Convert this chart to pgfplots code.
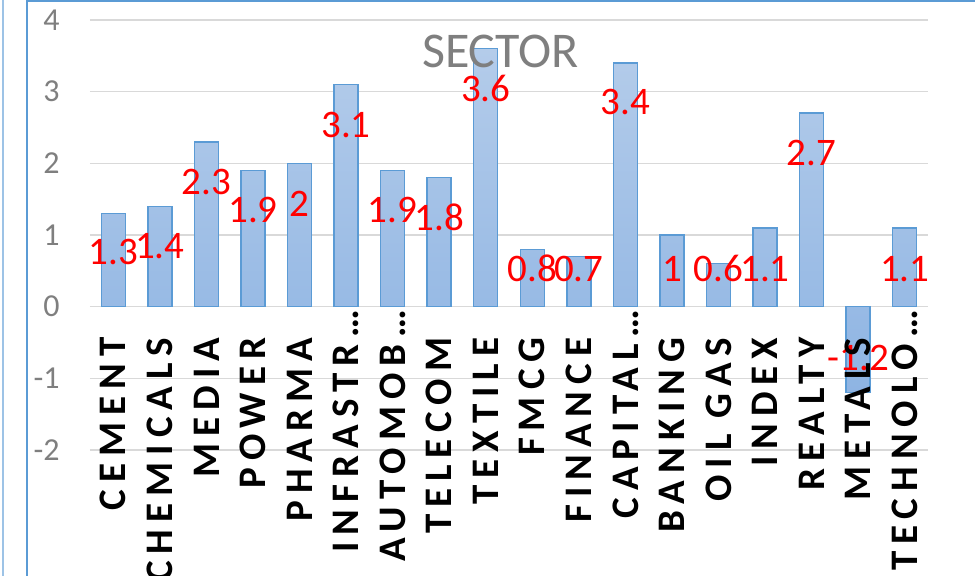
\documentclass[border=0pt]{standalone}
\usepackage{pgfplots}
\pgfplotsset{compat=1.18}
\usepackage{pgfplotstable}
\usepackage{fontspec}
\setmainfont{Carlito}
\newfontfamily\catfont[LetterSpace=18]{Carlito}
\definecolor{barblue}{HTML}{5B9BD5}
\definecolor{bartop}{HTML}{B4CCEA}
\definecolor{barbot}{HTML}{8EB4E3}
\definecolor{gridgray}{HTML}{D9D9D9}
\definecolor{txtgray}{HTML}{7F7F7F}
\definecolor{framelight}{HTML}{9DC3E6}

\pgfplotstableread{
x y ly lab
0 1.3 0.76 1.3
1 1.4 0.84 1.4
2 2.3 1.74 2.3
3 1.9 1.35 1.9
4 2 1.44 2
5 3.1 2.54 3.1
6 1.9 1.35 1.9
7 1.8 1.24 1.8
8 3.6 3.05 3.6
9 0.8 0.53 0.8
10 0.7 0.53 0.7
11 3.4 2.85 3.4
12 1 0.53 1
13 0.6 0.53 0.6
14 1.1 0.53 1.1
15 2.7 2.15 2.7
16 -1.2 -0.72 -1.2
17 1.1 0.53 1.1
}\data

% category names: full names
\pgfplotstableread[col sep=comma]{
x,y,name
0,0,CEMENT
1,0,CHEMICALS
2,0,MEDIA
3,0,POWER
4,0,PHARMA
7,0,TELECOM
8,0,TEXTILE
9,0,FMCG
10,0,FINANCE
12,0,BANKING
13,0,OIL GAS
14,0,INDEX
15,0,REALTY
16,0,METALS
}\catsfull

% category names: truncated names
\pgfplotstableread[col sep=comma]{
x,y,name
5,0,INFRASTR…
6,0,AUTOMOB…
11,0,CAPITAL…
17,0,TECHNOLO…
}\catstrunc

\begin{document}
\begin{tikzpicture}
\begin{axis}[
  name=ax, scale only axis,
  width=419pt, height=215pt,
  xmin=-0.5, xmax=17.5, ymin=-2, ymax=4,
  axis line style={draw=none},
  tick style={draw=none},
  ytick={-2,-1,0,1,2,3,4}, yticklabels={-2,-1,0,1,2,3,4},
  ymajorgrids, grid style={gridgray, line width=0.75pt},
  yticklabel style={font=\fontsize{16}{16}\selectfont, text=txtgray, anchor=east, inner sep=0pt, xshift=-15pt},
  xtick=\empty,
  title={SECTOR},
  title style={at={(axis description cs:0.49,0.898)}, anchor=center, font=\fontsize{25}{25}\selectfont, text=txtgray, inner sep=0pt},
  clip=false,
]
\addplot[ybar, bar width=12pt, draw=barblue, line width=0.75pt, top color=bartop, bottom color=barbot] table[x=x,y=y]{\data};
\addplot[draw=none, mark=none, nodes near coords, point meta=explicit symbolic,
  nodes near coords style={anchor=center, inner sep=0pt, text=red, font=\fontsize{19.5}{19.5}\selectfont}]
  table[x=x,y=ly,meta=lab]{\data};
\addplot[draw=none, mark=none, nodes near coords, point meta=explicit symbolic,
  nodes near coords style={rotate=90, anchor=east, inner ysep=0pt, inner xsep=15.5pt, outer sep=0pt, text=black, font=\catfont\bfseries\fontsize{19.5}{19.5}\selectfont}]
  table[x=x,y=y,meta=name]{\catsfull};
\addplot[draw=none, mark=none, nodes near coords, point meta=explicit symbolic,
  nodes near coords style={rotate=90, anchor=east, inner ysep=0pt, inner xsep=1.5pt, outer sep=0pt, text=black, font=\catfont\bfseries\fontsize{19.5}{19.5}\selectfont}]
  table[x=x,y=y,meta=name]{\catstrunc};
\coordinate (SW) at (rel axis cs:0,0);
\end{axis}
\draw[framelight, line width=0.75pt] ([shift={(-43.5pt,-70pt)}]SW) -- ([shift={(-43.5pt,230pt)}]SW);
\draw[barblue, line width=1pt] ([shift={(-31.5pt,-70pt)}]SW) -- ([shift={(-31.5pt,230pt)}]SW);
\draw[barblue, line width=1pt] ([shift={(-31.5pt,224.3pt)}]SW) -- ([shift={(450pt,224.3pt)}]SW);
\pgfresetboundingbox
\useasboundingbox ([shift={(-45pt,-62.5pt)}]SW) rectangle ([shift={(442.5pt,225pt)}]SW);
\end{tikzpicture}
\end{document}
